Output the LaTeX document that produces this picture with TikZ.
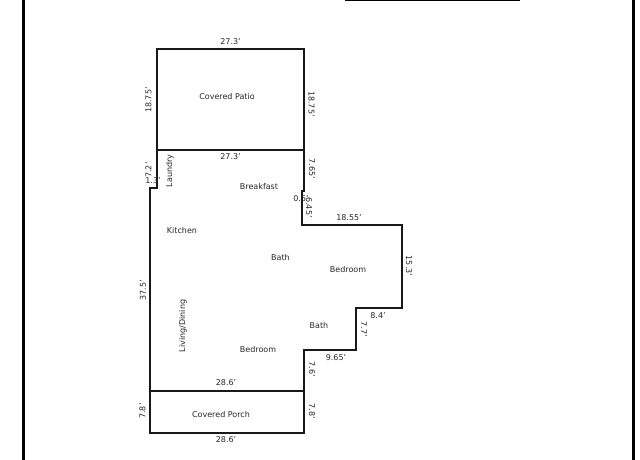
\documentclass[tikz,border=0pt]{standalone}
\usepackage{fontspec}
\setmainfont{DejaVu Sans}
\tikzset{
  wall/.style={draw=black!90,line width=1.5pt,line join=miter},
  frameline/.style={draw=black,line width=2.5pt},
  lbl/.style={inner sep=0pt,font=\fontsize{8pt}{9pt}\selectfont,text=black!85},
  rotL/.style={lbl,rotate=90},
  rotR/.style={lbl,rotate=-90},
}
\begin{document}
\begin{tikzpicture}[x=1pt,y=-1pt]
\useasboundingbox (0,0) rectangle (640,460);
\coordinate (fa) at (23.5,0); \coordinate (fb) at (23.5,460);
\coordinate (fc) at (633.5,0); \coordinate (fd) at (633.5,460);
\coordinate (ta) at (345,0); \coordinate (tb) at (520,0);
\draw[frameline] (fa) -- (fb);
\draw[frameline] (fc) -- (fd);
\draw[frameline] (ta) -- (tb);
\draw[wall] (157,49) rectangle (304,150);
\draw[wall] (157,150) -- (304,150);
\draw[wall] (157,150) -- (157,188) -- (150,188) -- (150,433) -- (304,433) -- (304,350) -- (356,350) -- (356,308) -- (402,308) -- (402,225) -- (302,225) -- (302,191) -- (304,191) -- (304,150);
\draw[wall] (150,391) -- (304,391);
\node[lbl] (a) at (230.5,41.5) {27.3'};
\node[lbl] (b) at (230.5,157) {27.3'};
\node[lbl] (c) at (227,96.7) {Covered Patio};
\node[rotL] (d) at (148.5,100) {18.75'};
\node[rotR] (e) at (311.5,104) {18.75'};
\node[rotR] (f) at (312,169) {7.65'};
\node[rotL] (g) at (148.5,170) {7.2'};
\node[lbl] (h) at (153,180.5) {1.3'};
\node[rotL] (i) at (170,171) {Laundry};
\node[lbl] (j) at (259,186.7) {Breakfast};
\node[lbl] (k) at (301,198.5) {0.5'};
\node[rotR] (l) at (309,207.5) {6.45'};
\node[lbl] (m) at (349,217.5) {18.55'};
\node[lbl] (n) at (182,231) {Kitchen};
\node[lbl] (o) at (280.5,257.7) {Bath};
\node[lbl] (p) at (348,270) {Bedroom};
\node[rotR] (q) at (409,266) {15.3'};
\node[rotL] (r) at (143,290) {37.5'};
\node[rotL] (s) at (183,326) {Living/Dining};
\node[lbl] (t) at (378,315.5) {8.4'};
\node[rotR] (u) at (364,329) {7.7'};
\node[lbl] (v) at (319,326) {Bath};
\node[lbl] (w) at (258,349.5) {Bedroom};
\node[lbl] (x) at (336,357.5) {9.65'};
\node[rotR] (y) at (312,369) {7.6'};
\node[lbl] (z) at (226,383) {28.6'};
\node[lbl] (aa) at (221,414.5) {Covered Porch};
\node[rotL] (ab) at (142.5,411) {7.8'};
\node[rotR] (ac) at (312,411) {7.8'};
\node[lbl] (ad) at (226,440) {28.6'};
\end{tikzpicture}
\end{document}
